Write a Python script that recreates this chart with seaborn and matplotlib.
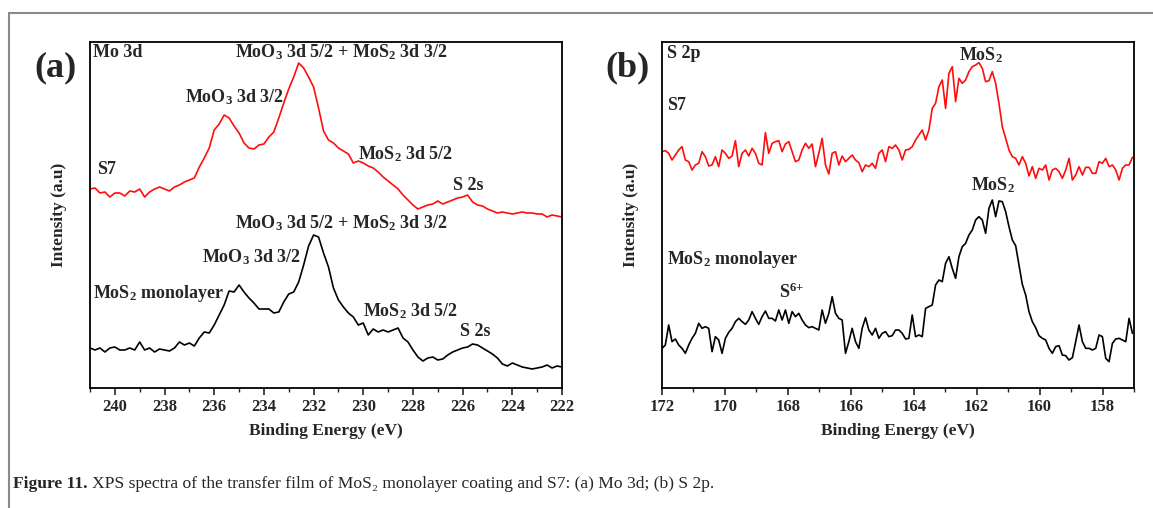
import numpy as np
import pandas as pd
import matplotlib
matplotlib.use("Agg")
import matplotlib.pyplot as plt
import seaborn as sns
from matplotlib.ticker import MultipleLocator
from matplotlib.lines import Line2D

sns.set_style("ticks")
plt.rcParams["font.family"] = ["Liberation Serif", "DejaVu Serif"]
plt.rcParams["font.weight"] = "bold"
plt.rcParams["mathtext.fontset"] = "custom"
plt.rcParams["mathtext.rm"] = "Liberation Serif:bold"
plt.rcParams["mathtext.it"] = "Liberation Serif:bold:italic"
plt.rcParams["mathtext.bf"] = "Liberation Serif:bold"

# ---------------- Mo 3d region (a) ----------------
mo3d_energy = np.linspace(241.0, 222.0, 96)          # binding energy, eV (0.2 eV step)
mo3d_s7 = [199, 200, 195, 196, 191, 195, 195, 192, 197, 196,
           199, 191, 196, 199, 201, 199, 197, 201, 203, 206,
           208, 210, 221, 230, 240, 258, 264, 273, 270, 262,
           255, 245, 240, 239, 243, 244, 251, 256, 270, 285,
           299, 311, 325, 320, 311, 301, 280, 257, 248, 245,
           240, 237, 234, 225, 227, 225, 222, 220, 216, 211,
           207, 203, 199, 193, 188, 183, 179, 181, 183, 184,
           187, 184, 186, 188, 190, 191, 193, 186, 183, 182,
           179, 177, 175, 176, 175, 174, 175, 176, 175, 175,
           174, 174, 171, 173, 172, 171]
mo3d_mos2 = [40, 38, 40, 36, 40, 41, 38, 38, 40, 38,
             46, 38, 40, 36, 39, 38, 37, 40, 46, 43,
             45, 42, 50, 56, 55, 63, 73, 83, 97, 96,
             103, 96, 90, 85, 79, 79, 79, 75, 76, 86,
             94, 96, 106, 123, 142, 153, 151, 135, 121, 100,
             88, 81, 75, 71, 63, 65, 53, 59, 56, 58,
             56, 58, 60, 50, 46, 38, 31, 27, 30, 31,
             28, 29, 33, 36, 38, 40, 41, 44, 43, 40,
             37, 34, 30, 24, 22, 25, 23, 21, 20, 19,
             20, 21, 23, 20, 22, 21]

# ---------------- S 2p region (b) ----------------
s2p_energy = np.linspace(172.0, 157.05, 142)        # binding energy, eV
s2p_s7 = [709, 712, 704, 684, 699, 714, 724, 684, 679, 654,
          669, 674, 709, 694, 666, 669, 694, 664, 714, 704,
          689, 696, 742, 664, 704, 714, 696, 719, 704, 674,
          669, 766, 704, 734, 739, 742, 709, 732, 739, 709,
          679, 684, 714, 734, 719, 732, 664, 704, 749, 669,
          642, 704, 709, 669, 696, 679, 689, 699, 684, 676,
          649, 669, 664, 674, 659, 704, 714, 679, 724, 719,
          729, 714, 684, 714, 716, 724, 744, 759, 774, 744,
          774, 839, 854, 904, 924, 839, 944, 964, 859, 929,
          914, 924, 949, 964, 969, 976, 959, 919, 922, 949,
          914, 854, 784, 749, 714, 694, 689, 669, 694, 674,
          636, 664, 629, 659, 654, 669, 624, 654, 659, 649,
          629, 654, 689, 624, 639, 664, 639, 662, 662, 644,
          644, 679, 674, 689, 664, 669, 654, 624, 659, 669,
          669, 692]
s2p_mos2 = [119, 129, 189, 139, 147, 129, 119, 104, 129, 149,
            164, 194, 179, 184, 179, 109, 154, 144, 104, 149,
            167, 179, 199, 209, 199, 191, 204, 229, 209, 191,
            214, 231, 209, 209, 201, 234, 204, 234, 194, 229,
            214, 224, 204, 189, 181, 184, 179, 174, 234, 194,
            224, 274, 224, 209, 204, 104, 139, 179, 139, 119,
            179, 211, 174, 159, 179, 149, 164, 169, 154, 157,
            174, 174, 164, 147, 149, 219, 154, 159, 154, 239,
            244, 249, 309, 324, 319, 374, 394, 359, 329, 394,
            424, 434, 459, 474, 504, 514, 504, 464, 539, 564,
            514, 561, 559, 529, 484, 444, 427, 369, 311, 279,
            229, 199, 181, 157, 149, 144, 119, 104, 124, 127,
            99, 97, 84, 91, 139, 189, 139, 119, 119, 114,
            119, 159, 154, 89, 79, 134, 147, 149, 144, 139,
            209, 164]

samples = ["S7", "MoS2 monolayer"]
palette = {"S7": "#ff0d0d", "MoS2 monolayer": "#000000"}

df_a = pd.concat([
    pd.DataFrame({"energy": mo3d_energy, "intensity": mo3d_s7, "sample": samples[0]}),
    pd.DataFrame({"energy": mo3d_energy, "intensity": mo3d_mos2, "sample": samples[1]}),
])
df_b = pd.concat([
    pd.DataFrame({"energy": s2p_energy, "intensity": s2p_s7, "sample": samples[0]}),
    pd.DataFrame({"energy": s2p_energy, "intensity": s2p_mos2, "sample": samples[1]}),
])

W, H = 1153, 508
fig = plt.figure(figsize=(W / 100, H / 100), dpi=100)
ax_a = fig.add_axes([90 / W, 1 - 388 / H, 472 / W, 346 / H])
ax_b = fig.add_axes([662 / W, 1 - 388 / H, 472 / W, 346 / H])

for ax, df in ((ax_a, df_a), (ax_b, df_b)):
    sns.lineplot(data=df, x="energy", y="intensity", hue="sample", palette=palette,
                 estimator=None, sort=False, legend=False, linewidth=1.2, ax=ax)
    ax.set_yticks([])
    ax.xaxis.set_major_locator(MultipleLocator(2))
    ax.xaxis.set_minor_locator(MultipleLocator(1))
    ax.tick_params(axis="x", which="major", direction="out", length=5, width=1.2,
                   labelsize=12, pad=3, top=False)
    ax.tick_params(axis="x", which="minor", direction="out", length=3, width=1.0, top=False)
    for lab in ax.get_xticklabels():
        lab.set_fontweight("bold")
    for sp in ax.spines.values():
        sp.set_visible(True)
        sp.set_linewidth(1.3)
        sp.set_color("black")
    ax.set_xlabel("Binding Energy (eV)", fontsize=12.5, fontweight="bold")
    ax.set_ylabel("Intensity (a.u)", fontsize=12.5, fontweight="bold")
    ax.xaxis.label.set_va("center")
    ax.yaxis.label.set_va("center")
    ax.xaxis.set_label_coords(0.5, -43 / 346)
    ax.yaxis.set_label_coords(-31 / 472, 0.5)

ax_a.set_xlim(241, 222)
ax_a.set_ylim(0, 346)
ax_b.set_xlim(172, 157)
ax_b.set_ylim(0, 1038)

fs = 13
kw = dict(fontsize=fs, fontweight="bold", va="center")
# panel (a) annotations
ax_a.text(0.006, 0.970, "Mo 3d", transform=ax_a.transAxes, ha="left", **kw)
ax_a.text(230.9, 336, r"MoO$_3$ 3d 5/2 + MoS$_2$ 3d 3/2", ha="center", **kw)
ax_a.text(235.2, 291, r"MoO$_3$ 3d 3/2", ha="center", **kw)
ax_a.text(240.72, 219, "S7", ha="left", **kw)
ax_a.text(228.3, 234, r"MoS$_2$ 3d 5/2", ha="center", **kw)
ax_a.text(225.76, 203, "S 2s", ha="center", **kw)
ax_a.text(230.9, 165, r"MoO$_3$ 3d 5/2 + MoS$_2$ 3d 3/2", ha="center", **kw)
ax_a.text(234.5, 131, r"MoO$_3$ 3d 3/2", ha="center", **kw)
ax_a.text(240.88, 95, r"MoS$_2$ monolayer", ha="left", **kw)
ax_a.text(228.1, 77, r"MoS$_2$ 3d 5/2", ha="center", **kw)
ax_a.text(225.5, 57, "S 2s", ha="center", **kw)

# panel (b) annotations
ax_b.text(171.84, 1005, "S 2p", ha="left", **kw)
ax_b.text(171.84, 846, "S7", ha="left", **kw)
ax_b.text(161.85, 999, r"MoS$_2$", ha="center", **kw)
ax_b.text(171.84, 384, r"MoS$_2$ monolayer", ha="left", **kw)
ax_b.text(167.9, 288, r"S$^{6{+}}$", ha="center", **kw)
ax_b.text(161.47, 609, r"MoS$_2$", ha="center", **kw)

# panel letters
fig.text(56 / W, 1 - 68 / H, "(a)", fontsize=26, fontweight="bold", ha="center", va="center")
fig.text(628 / W, 1 - 68 / H, "(b)", fontsize=26, fontweight="bold", ha="center", va="center")

# frame lines around the figure block
fig.add_artist(Line2D([9 / W, 1.0], [1 - 13 / H, 1 - 13 / H], color="#8a8a8a", lw=1.5,
                      transform=fig.transFigure))
fig.add_artist(Line2D([9 / W, 9 / W], [1 - 13 / H, 0.0], color="#8a8a8a", lw=1.5,
                      transform=fig.transFigure))

# caption
cap_y = 1 - 484 / H
t1 = fig.text(13 / W, cap_y, "Figure 11.", fontsize=12.6, fontweight="bold",
              ha="left", va="center")
fig.canvas.draw()
bb = t1.get_window_extent()
fig.text((bb.x1 + 4) / W, cap_y,
         "XPS spectra of the transfer film of MoS\u2082 monolayer coating and S7: (a) Mo 3d; (b) S 2p.",
         fontsize=12.6, fontweight="normal", ha="left", va="center")

fig.savefig("out.png", dpi=100)
